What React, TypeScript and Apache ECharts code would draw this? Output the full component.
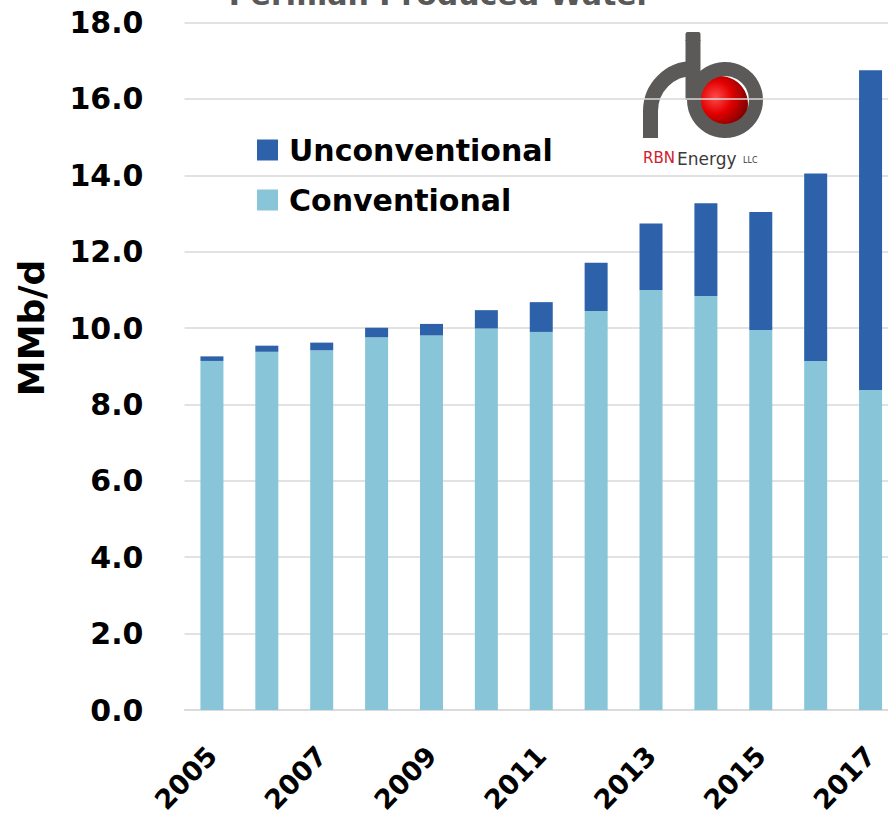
import React, { useEffect, useRef } from "react";
import * as echarts from "echarts";

const years = ["2005", "2006", "2007", "2008", "2009", "2010", "2011", "2012", "2013", "2014", "2015", "2016", "2017"];
const conventional = [9.14, 9.38, 9.42, 9.76, 9.81, 9.99, 9.9, 10.45, 11.0, 10.84, 9.95, 9.14, 8.38];
const unconventional = [0.12, 0.16, 0.2, 0.25, 0.3, 0.48, 0.78, 1.26, 1.74, 2.43, 3.09, 4.91, 8.37];
const yTicks = { min: 0, max: 18, interval: 2 };

const DARK = "#2D62AA";
const LIGHT = "#88C5D9";
const FONT = "DejaVu Sans";
const PIPE = "#5c5a58";

export default function App() {
  const ref = useRef<HTMLDivElement>(null);
  useEffect(() => {
    if (!ref.current) return;
    const chart = echarts.init(ref.current, undefined, { renderer: "svg" });
    chart.setOption({
      animation: false,
      backgroundColor: "#ffffff",
      grid: { left: 184.5, right: -10, top: 22.6, bottom: 112, containLabel: false, outerBoundsMode: "none" },
      legend: {
        orient: "vertical",
        left: 252,
        top: 130,
        itemWidth: 21,
        itemHeight: 21,
        itemGap: 20,
        icon: "rect",
        data: ["Unconventional", "Conventional"],
        textStyle: { fontFamily: FONT, fontWeight: "bold", fontSize: 30, color: "#000", padding: [0, 0, 0, 6] },
      },
      xAxis: {
        type: "category",
        data: years,
        axisLine: { lineStyle: { color: "#d9d9d9", width: 1.5 } },
        axisTick: { show: false },
        axisLabel: {
          interval: 1,
          rotate: 46,
          margin: 41,
          fontFamily: FONT,
          fontWeight: "bold",
          fontSize: 27,
          color: "#000",
        },
      },
      yAxis: {
        type: "value",
        min: yTicks.min,
        max: yTicks.max,
        interval: yTicks.interval,
        axisLine: { show: false },
        axisTick: { show: false },
        splitLine: { lineStyle: { color: "#d9d9d9", width: 1.5 } },
        axisLabel: {
          margin: 41,
          fontFamily: FONT,
          fontWeight: "bold",
          fontSize: 30,
          color: "#000",
          formatter: (v: number) => v.toFixed(1),
        },
      },
      series: [
        {
          name: "Conventional",
          type: "bar",
          stack: "total",
          data: conventional,
          barWidth: 23,
          itemStyle: { color: LIGHT },
        },
        {
          name: "Unconventional",
          type: "bar",
          stack: "total",
          data: unconventional,
          barWidth: 23,
          itemStyle: { color: DARK },
        },
      ],
      graphic: [
        {
          type: "text",
          x: 440,
          y: -6,
          style: {
            text: "Permian Produced Water",
            align: "center",
            verticalAlign: "middle",
            fontFamily: FONT,
            fontWeight: "bold",
            fontSize: 30,
            fill: "#595959",
          },
        },
        {
          type: "text",
          x: 31,
          y: 328,
          rotation: Math.PI / 2,
          style: {
            text: "MMb/d",
            align: "center",
            verticalAlign: "middle",
            fontFamily: FONT,
            fontWeight: "bold",
            fontSize: 36,
            fill: "#000",
          },
        },
        {
          type: "circle",
          shape: { cx: 720, cy: 104, r: 28 },
          style: {
            fill: {
              type: "radial",
              x: 0.42,
              y: 0.38,
              r: 0.65,
              colorStops: [
                { offset: 0, color: "#ff4a4a" },
                { offset: 0.45, color: "#e30000" },
                { offset: 1, color: "#6e0000" },
              ],
            },
          },
        },
        {
          type: "arc",
          shape: { cx: 725, cy: 100, r: 31, startAngle: 0, endAngle: Math.PI * 2 },
          style: { stroke: PIPE, lineWidth: 14, fill: "none" },
        },
        {
          type: "line",
          shape: { x1: 693, y1: 40, x2: 693, y2: 100 },
          style: { stroke: PIPE, lineWidth: 15, lineCap: "butt" },
        },
        {
          type: "line",
          shape: { x1: 650.5, y1: 111, x2: 650.5, y2: 138 },
          style: { stroke: PIPE, lineWidth: 15, lineCap: "butt" },
        },
        {
          type: "arc",
          shape: { cx: 693, cy: 111, r: 42.5, startAngle: Math.PI, endAngle: Math.PI * 1.5, clockwise: true },
          style: { stroke: PIPE, lineWidth: 15, fill: "none" },
        },
        {
          type: "rect",
          shape: { x: 685.5, y: 32, width: 15, height: 9, r: [2, 2, 0, 0] },
          style: { fill: PIPE },
        },
        {
          type: "text",
          x: 643,
          y: 165,
          style: { text: "RBN", fontFamily: FONT, fontSize: 15, fill: "#d0202e", verticalAlign: "bottom" },
        },
        {
          type: "text",
          x: 677,
          y: 167,
          style: { text: "Energy", fontFamily: FONT, fontSize: 17, fill: "#3a3a3a", verticalAlign: "bottom" },
        },
        {
          type: "text",
          x: 743,
          y: 164,
          style: { text: "LLC", fontFamily: FONT, fontSize: 8, fill: "#3a3a3a", verticalAlign: "bottom" },
        },
      ],
    });
    return () => chart.dispose();
  }, []);
  return <div ref={ref} style={{ width: 888, height: 822, position: "absolute", left: 0, top: 0 }} />;
}
